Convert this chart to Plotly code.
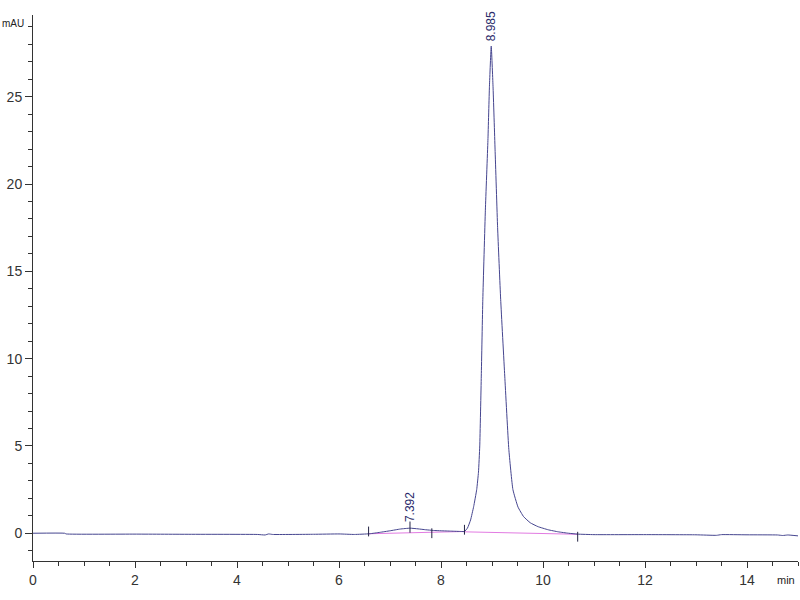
import plotly.graph_objects as go

# Chromatogram signal (time in min, absorbance in mAU)
time_min = [0.0, 0.62, 0.65, 2.0, 3.0, 4.4, 4.55, 4.62, 4.7, 5.5, 6.0, 6.3, 6.6,
            6.8, 7.0, 7.2, 7.392, 7.55, 7.7, 7.85, 8.0, 8.2, 8.4, 8.46,
            8.52, 8.58, 8.64, 8.70, 8.735, 8.76, 8.79, 8.82, 8.87, 8.92, 8.95,
            8.985, 9.02, 9.06, 9.11, 9.17, 9.25, 9.33, 9.41, 9.51, 9.62, 9.75,
            9.9, 10.1, 10.3, 10.5, 10.68, 11.0, 12.0, 13.0, 13.4, 13.5, 14.0,
            14.6, 14.7, 14.8, 15.0]
signal_mau = [0.0, 0.0, -0.04, -0.05, -0.06, -0.07, -0.10, -0.04, -0.07, -0.06, -0.04, -0.07, -0.03,
              0.05, 0.14, 0.24, 0.29, 0.25, 0.20, 0.16, 0.14, 0.12, 0.10, 0.10,
              0.30, 0.76, 1.52, 2.5, 3.5, 5.0, 9.0, 13.4, 18.5, 22.5, 25.6,
              27.9, 25.6, 22.0, 17.5, 13.4, 9.0, 4.8, 2.5, 1.5, 0.95, 0.6,
              0.38, 0.2, 0.08, 0.0, -0.05, -0.08, -0.08, -0.09, -0.12, -0.08, -0.09,
              -0.10, -0.13, -0.10, -0.15]

# Integration baselines (start/end of each peak)
base1_t = [6.58, 8.46]
base1_v = [-0.03, 0.10]
base2_t = [8.46, 10.68]
base2_v = [0.08, -0.06]

# Integration event marks
event_t = [6.58, 7.82, 8.46, 10.68]
event_v = [0.1, 0.0, 0.2, -0.2]

# Peak labels
peak_t = [7.392, 8.985]
peak_v = [0.35, 27.9]
peak_labels = ["7.392", "8.985"]

x_ticks = [0, 2, 4, 6, 8, 10, 12, 14]
y_ticks = [0, 5, 10, 15, 20, 25]

line_col = "#45458f"
pink = "#e27be2"
axis_col = "#333333"
font_fam = "Liberation Sans, Arial, sans-serif"

fig = go.Figure()
fig.add_trace(go.Scatter(x=base1_t, y=base1_v, mode="lines",
                         line=dict(color=pink, width=1), hoverinfo="skip"))
fig.add_trace(go.Scatter(x=base2_t, y=base2_v, mode="lines",
                         line=dict(color=pink, width=1), hoverinfo="skip"))
fig.add_trace(go.Scatter(x=time_min, y=signal_mau, mode="lines",
                         line=dict(color=line_col, width=1, shape="spline", smoothing=0.4)))
fig.add_trace(go.Scatter(x=event_t, y=event_v, mode="markers",
                         marker=dict(symbol="line-ns", size=7,
                                     line=dict(color="#222244", width=1))))
fig.add_trace(go.Scatter(x=[peak_t[0]], y=[peak_v[0]], mode="markers",
                         marker=dict(symbol="line-ns", size=8,
                                     line=dict(color="#222244", width=1))))

for t, v, lab in zip(peak_t, peak_v, peak_labels):
    fig.add_annotation(x=t, y=v, text=lab, showarrow=False, textangle=-90,
                       xanchor="center", yanchor="bottom", yshift=3,
                       font=dict(family=font_fam, size=12, color="#2a2a6a"))

fig.add_annotation(xref="paper", x=0, yref="y", y=29.2, text="mAU",
                   showarrow=False, xanchor="right", xshift=-7, yanchor="middle",
                   font=dict(family=font_fam, size=10, color="#222222"))
fig.add_annotation(xref="x", x=15, yref="paper", y=0, text="min",
                   showarrow=False, xanchor="right", xshift=-1, yanchor="top", yshift=-11,
                   font=dict(family=font_fam, size=11, color="#222222"))

fig.update_layout(
    width=800, height=600,
    margin=dict(l=33, r=2, t=15, b=39, autoexpand=False),
    paper_bgcolor="white", plot_bgcolor="white",
    showlegend=False,
    font=dict(family=font_fam, size=14, color="#333333"),
)
fig.update_xaxes(range=[0, 15], tickvals=x_ticks, ticktext=[str(v) for v in x_ticks],
                 automargin=False,
                 showgrid=False, zeroline=False, showline=True, linecolor=axis_col,
                 linewidth=1, ticks="outside", ticklen=6, tickcolor=axis_col,
                 minor=dict(dtick=0.5, ticks="outside", ticklen=4, tickcolor=axis_col, showgrid=False))
fig.update_yaxes(range=[-1.59, 29.68], tickvals=y_ticks, ticktext=[str(v) for v in y_ticks],
                 automargin=False,
                 showgrid=False, zeroline=False, showline=True, linecolor=axis_col,
                 linewidth=1, ticks="outside", ticklen=7, tickcolor=axis_col,
                 minor=dict(dtick=1, ticks="outside", ticklen=4, tickcolor=axis_col, showgrid=False))

fig.write_html("out.html", config={"displayModeBar": False},
               post_script="document.body.style.margin='0';document.body.style.overflow='hidden';")
